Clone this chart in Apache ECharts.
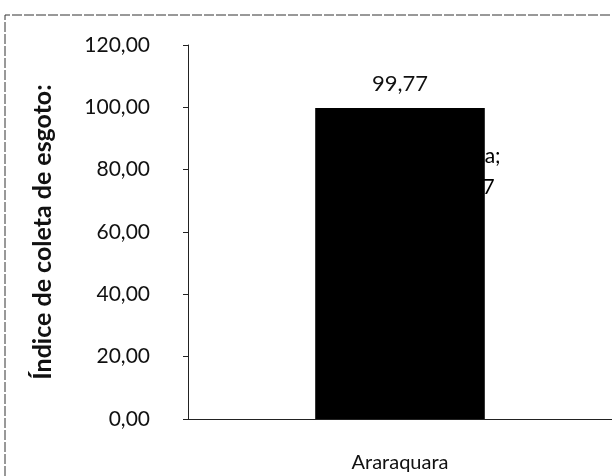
<!DOCTYPE html>
<html>
<head>
<meta charset="utf-8">
<script src="https://cdn.jsdelivr.net/npm/echarts@6/dist/echarts.min.js"></script>
<style>
html,body{margin:0;padding:0;background:#fff;}
#chart{width:612px;height:476px;}
</style>
</head>
<body>
<div id="chart"></div>
<script>
const categories = ['Araraquara'];
const seriesName = 'Coleta';
const values = [99.77];
const yTicks = [0, 20, 40, 60, 80, 100, 120];
const yTitle = 'Índice de coleta de esgoto:';

const fmt = v => v.toFixed(2).replace('.', ',');
const FONT = 'Lato';

const chart = echarts.init(document.getElementById('chart'), null, {renderer: 'canvas'});
chart.setOption({
  backgroundColor: '#fff',
  animation: false,
  textStyle: {fontFamily: FONT},
  graphic: [{
    type: 'polyline',
    shape: {points: [[5, 476], [5, 15], [612, 15]]},
    style: {stroke: '#333', lineWidth: 1, fill: null, lineDash: [10, 2]},
    silent: true
  }],
  grid: {left: 188, right: -2, top: 45, bottom: 57, containLabel: false},
  xAxis: {
    type: 'category',
    data: categories,
    axisLine: {show: true, lineStyle: {color: '#222', width: 1}},
    axisTick: {show: false},
    axisLabel: {color: '#111', fontSize: 20, fontFamily: FONT, margin: 34}
  },
  yAxis: {
    type: 'value',
    min: yTicks[0],
    max: yTicks[yTicks.length - 1],
    interval: yTicks[1] - yTicks[0],
    name: yTitle,
    nameLocation: 'middle',
    nameGap: 133,
    nameRotate: 90,
    nameTextStyle: {fontSize: 25, fontWeight: 'bold', color: '#111', fontFamily: FONT},
    axisLine: {show: true, lineStyle: {color: '#222', width: 1}},
    axisTick: {show: true, inside: false, length: 5, lineStyle: {color: '#222'}},
    splitLine: {show: false},
    axisLabel: {color: '#111', fontSize: 21, fontFamily: FONT, margin: 38, formatter: v => fmt(v)}
  },
  series: [{
    name: seriesName,
    type: 'bar',
    data: values,
    barWidth: '40%',
    itemStyle: {color: '#000'},
    label: {
      show: true,
      position: 'top',
      distance: 13,
      color: '#111',
      fontSize: 22,
      fontFamily: FONT,
      formatter: p => fmt(p.value)
    },
    markPoint: {
      symbol: 'rect',
      symbolSize: 0,
      data: [{coord: [0, values[0]], value: values[0]}],
      label: {
        show: true,
        position: 'inside',
        offset: [68, 64],
        color: '#000',
        fontSize: 21,
        lineHeight: 31,
        align: 'center',
        fontFamily: FONT,
        formatter: p => seriesName + ';\n' + fmt(p.value)
      }
    }
  }]
});
</script>
</body>
</html>
